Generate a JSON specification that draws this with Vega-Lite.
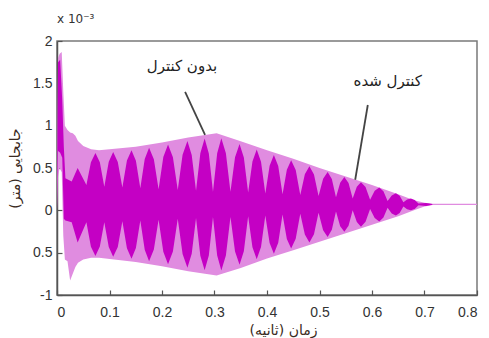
{
  "$schema": "https://vega.github.io/schema/vega-lite/v6.json",
  "autosize": "none",
  "width": 420,
  "height": 254,
  "padding": {"left": 57, "top": 41, "right": 12, "bottom": 43},
  "background": "white",
  "title": {"text": "x 10⁻³", "anchor": "start", "frame": "group", "font": "DejaVu Sans", "fontSize": 12, "fontWeight": "normal", "color": "#333", "offset": 8},
  "config": {
    "view": {"stroke": "#7a7a7a", "strokeWidth": 1.5},
    "axis": {"grid": false, "domainColor": "#555", "domainWidth": 1.5, "tickColor": "#555", "tickWidth": 1.2, "tickSize": -5, "labelFont": "Liberation Sans", "labelFontSize": 14, "labelColor": "#333", "titleFont": "DejaVu Sans", "titleFontSize": 14, "titleFontWeight": "normal", "titleColor": "#3a2a22"}
  },
  "datasets": {
    "env": [
      {"x": 0.000, "lo": 0.0, "hi": 0.1},
      {"x": 0.002, "lo": 0.4, "hi": 1.8},
      {"x": 0.005, "lo": 0.5, "hi": 1.85},
      {"x": 0.009, "lo": 0.45, "hi": 1.87},
      {"x": 0.012, "lo": -0.3, "hi": 1.4},
      {"x": 0.015, "lo": -0.58, "hi": 1.0},
      {"x": 0.020, "lo": -0.6, "hi": 0.95},
      {"x": 0.025, "lo": -0.83, "hi": 0.92},
      {"x": 0.030, "lo": -0.75, "hi": 0.91},
      {"x": 0.035, "lo": -0.67, "hi": 0.88},
      {"x": 0.040, "lo": -0.62, "hi": 0.82},
      {"x": 0.050, "lo": -0.58, "hi": 0.76},
      {"x": 0.065, "lo": -0.56, "hi": 0.72},
      {"x": 0.080, "lo": -0.56, "hi": 0.71},
      {"x": 0.150, "lo": -0.61, "hi": 0.75},
      {"x": 0.200, "lo": -0.66, "hi": 0.80},
      {"x": 0.250, "lo": -0.72, "hi": 0.86},
      {"x": 0.304, "lo": -0.77, "hi": 0.91},
      {"x": 0.350, "lo": -0.68, "hi": 0.815},
      {"x": 0.400, "lo": -0.57, "hi": 0.71},
      {"x": 0.450, "lo": -0.47, "hi": 0.61},
      {"x": 0.500, "lo": -0.37, "hi": 0.50},
      {"x": 0.550, "lo": -0.27, "hi": 0.40},
      {"x": 0.600, "lo": -0.17, "hi": 0.30},
      {"x": 0.650, "lo": -0.07, "hi": 0.19},
      {"x": 0.680, "lo": 0.0, "hi": 0.12},
      {"x": 0.700, "lo": 0.045, "hi": 0.09},
      {"x": 0.715, "lo": 0.063, "hi": 0.077},
      {"x": 0.800, "lo": 0.063, "hi": 0.077}
    ],
    "dark": [
      {"x": 0.000, "lo": 0.0, "hi": 0.05},
      {"x": 0.002, "lo": 0.7, "hi": 1.75},
      {"x": 0.006, "lo": 0.68, "hi": 1.78},
      {"x": 0.010, "lo": 0.62, "hi": 1.3},
      {"x": 0.013, "lo": -0.1, "hi": 0.75},
      {"x": 0.016, "lo": -0.12, "hi": 0.38},
      {"x": 0.028, "lo": -0.14, "hi": 0.34},
      {"x": 0.0393, "lo": -0.38, "hi": 0.5},
      {"x": 0.056, "lo": -0.14, "hi": 0.3},
      {"x": 0.0646, "lo": -0.429, "hi": 0.569},
      {"x": 0.0732, "lo": -0.538, "hi": 0.678},
      {"x": 0.0816, "lo": -0.427, "hi": 0.567},
      {"x": 0.0901, "lo": -0.14, "hi": 0.28},
      {"x": 0.0986, "lo": -0.434, "hi": 0.574},
      {"x": 0.1070, "lo": -0.549, "hi": 0.689},
      {"x": 0.1158, "lo": -0.432, "hi": 0.572},
      {"x": 0.1245, "lo": -0.13, "hi": 0.27},
      {"x": 0.1332, "lo": -0.448, "hi": 0.588},
      {"x": 0.1419, "lo": -0.571, "hi": 0.711},
      {"x": 0.1503, "lo": -0.445, "hi": 0.585},
      {"x": 0.1587, "lo": -0.12, "hi": 0.26},
      {"x": 0.1671, "lo": -0.466, "hi": 0.606},
      {"x": 0.1754, "lo": -0.600, "hi": 0.740},
      {"x": 0.1845, "lo": -0.463, "hi": 0.603},
      {"x": 0.1935, "lo": -0.11, "hi": 0.25},
      {"x": 0.2025, "lo": -0.489, "hi": 0.629},
      {"x": 0.2115, "lo": -0.637, "hi": 0.777},
      {"x": 0.2208, "lo": -0.487, "hi": 0.627},
      {"x": 0.2300, "lo": -0.10, "hi": 0.24},
      {"x": 0.2392, "lo": -0.517, "hi": 0.657},
      {"x": 0.2484, "lo": -0.679, "hi": 0.819},
      {"x": 0.2566, "lo": -0.514, "hi": 0.654},
      {"x": 0.2648, "lo": -0.09, "hi": 0.23},
      {"x": 0.2730, "lo": -0.535, "hi": 0.675},
      {"x": 0.2812, "lo": -0.708, "hi": 0.848},
      {"x": 0.2892, "lo": -0.532, "hi": 0.672},
      {"x": 0.2971, "lo": -0.08, "hi": 0.22},
      {"x": 0.3051, "lo": -0.534, "hi": 0.674},
      {"x": 0.3130, "lo": -0.711, "hi": 0.851},
      {"x": 0.3217, "lo": -0.534, "hi": 0.674},
      {"x": 0.3304, "lo": -0.08, "hi": 0.22},
      {"x": 0.3391, "lo": -0.486, "hi": 0.626},
      {"x": 0.3477, "lo": -0.644, "hi": 0.784},
      {"x": 0.3559, "lo": -0.483, "hi": 0.623},
      {"x": 0.3641, "lo": -0.07, "hi": 0.21},
      {"x": 0.3723, "lo": -0.436, "hi": 0.576},
      {"x": 0.3804, "lo": -0.578, "hi": 0.718},
      {"x": 0.3886, "lo": -0.433, "hi": 0.573},
      {"x": 0.3968, "lo": -0.06, "hi": 0.20},
      {"x": 0.4050, "lo": -0.386, "hi": 0.526},
      {"x": 0.4131, "lo": -0.513, "hi": 0.653},
      {"x": 0.4214, "lo": -0.383, "hi": 0.523},
      {"x": 0.4296, "lo": -0.05, "hi": 0.19},
      {"x": 0.4378, "lo": -0.339, "hi": 0.479},
      {"x": 0.4460, "lo": -0.451, "hi": 0.591},
      {"x": 0.4547, "lo": -0.336, "hi": 0.476},
      {"x": 0.4634, "lo": -0.04, "hi": 0.18},
      {"x": 0.4721, "lo": -0.286, "hi": 0.426},
      {"x": 0.4808, "lo": -0.381, "hi": 0.521},
      {"x": 0.4895, "lo": -0.283, "hi": 0.423},
      {"x": 0.4982, "lo": -0.03, "hi": 0.17},
      {"x": 0.5069, "lo": -0.234, "hi": 0.374},
      {"x": 0.5155, "lo": -0.314, "hi": 0.454},
      {"x": 0.5235, "lo": -0.230, "hi": 0.370},
      {"x": 0.5314, "lo": -0.015, "hi": 0.155},
      {"x": 0.5394, "lo": -0.187, "hi": 0.327},
      {"x": 0.5473, "lo": -0.254, "hi": 0.394},
      {"x": 0.5553, "lo": -0.183, "hi": 0.323},
      {"x": 0.5632, "lo": 0.0, "hi": 0.14},
      {"x": 0.5711, "lo": -0.139, "hi": 0.279},
      {"x": 0.5790, "lo": -0.193, "hi": 0.333},
      {"x": 0.5877, "lo": -0.135, "hi": 0.275},
      {"x": 0.5964, "lo": 0.015, "hi": 0.125},
      {"x": 0.6051, "lo": -0.090, "hi": 0.230},
      {"x": 0.6138, "lo": -0.131, "hi": 0.271},
      {"x": 0.6218, "lo": -0.086, "hi": 0.226},
      {"x": 0.6297, "lo": 0.03, "hi": 0.11},
      {"x": 0.6376, "lo": -0.036, "hi": 0.176},
      {"x": 0.6455, "lo": -0.062, "hi": 0.202},
      {"x": 0.6527, "lo": -0.032, "hi": 0.172},
      {"x": 0.6598, "lo": 0.045, "hi": 0.095},
      {"x": 0.6669, "lo": 0.013, "hi": 0.127},
      {"x": 0.6740, "lo": 0.0, "hi": 0.140},
      {"x": 0.6813, "lo": 0.017, "hi": 0.123},
      {"x": 0.6885, "lo": 0.06, "hi": 0.08},
      {"x": 0.7030, "lo": 0.052, "hi": 0.088},
      {"x": 0.7150, "lo": 0.065, "hi": 0.075}
    ],
    "notes": [
      {"x": 0.238, "y": 1.70, "label": "بدون کنترل"},
      {"x": 0.630, "y": 1.526, "label": "کنترل شده"}
    ],
    "pointers": [
      {"x": 0.244, "y": 1.40, "x2": 0.282, "y2": 0.89},
      {"x": 0.592, "y": 1.244, "x2": 0.568, "y2": 0.361}
    ]
  },
  "layer": [
    {
      "data": {"name": "env"},
      "mark": {"type": "area", "color": "#e08ce0", "opacity": 1},
      "encoding": {
        "x": {"field": "x", "type": "quantitative", "scale": {"domain": [0, 0.8], "nice": false}, "axis": {"values": [0, 0.1, 0.2, 0.3, 0.4, 0.5, 0.6, 0.7, 0.8], "format": "~g", "labelPadding": 15, "title": "زمان (ثانیه)", "titlePadding": 4, "titleX": 226}},
        "y": {"field": "hi", "type": "quantitative", "scale": {"domain": [-1, 2], "nice": false}, "axis": {"values": [-1, -0.5, 0, 0.5, 1, 1.5, 2], "format": "~g", "labelExpr": "datum.value == -0.5 ? '0.5' : (datum.value == -1 ? '-1' : datum.label)", "labelPadding": 10, "title": "جابجایی (متر)", "titlePadding": 10}},
        "y2": {"field": "lo"}
      }
    },
    {
      "data": {"name": "dark"},
      "mark": {"type": "area", "color": "#c400c4", "opacity": 1},
      "encoding": {
        "x": {"field": "x", "type": "quantitative"},
        "y": {"field": "hi", "type": "quantitative"},
        "y2": {"field": "lo"}
      }
    },
    {
      "data": {"name": "pointers"},
      "mark": {"type": "rule", "color": "#444", "strokeWidth": 1.8},
      "encoding": {
        "x": {"field": "x", "type": "quantitative"},
        "y": {"field": "y", "type": "quantitative"},
        "x2": {"field": "x2"},
        "y2": {"field": "y2"}
      }
    },
    {
      "data": {"name": "notes"},
      "mark": {"type": "text", "font": "DejaVu Sans", "fontSize": 15, "color": "#222", "align": "center", "baseline": "middle"},
      "encoding": {
        "x": {"field": "x", "type": "quantitative"},
        "y": {"field": "y", "type": "quantitative"},
        "text": {"field": "label"}
      }
    }
  ]
}
